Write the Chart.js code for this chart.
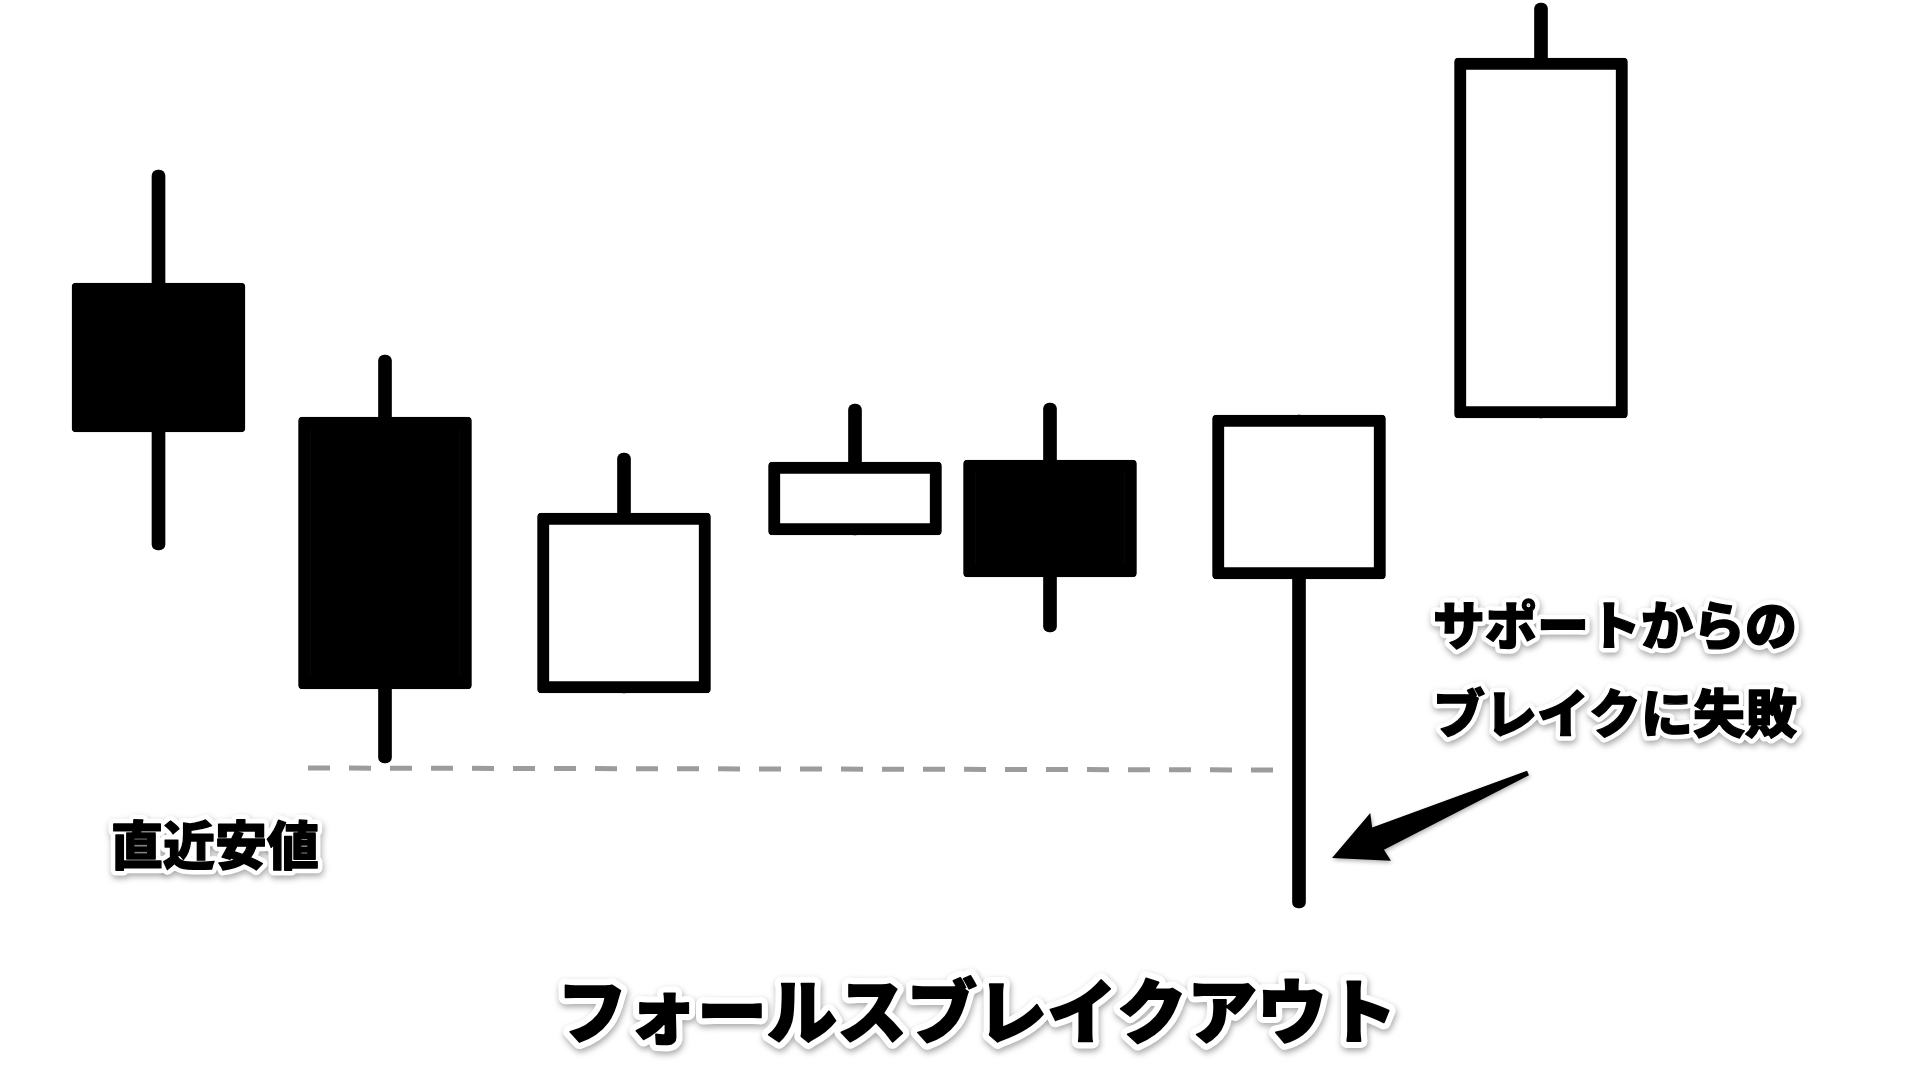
<!DOCTYPE html>
<html lang="ja">
<head>
    <meta charset="UTF-8">
    <title>フォールスブレイクアウト</title>
    <script src="https://cdn.jsdelivr.net/npm/chart.js"></script>
    <style>
        html, body {
            margin: 0;
            padding: 0;
            background: #fff;
            overflow: hidden;
        }
        #chart {
            display: block;
        }
    </style>
</head>
<body>
    <canvas id="chart" width="1920" height="1089"></canvas>

    <script>
        // candle data (time position, open/high/low/close), price
        const times  = [15.85, 38.5, 62.4, 85.5, 105.0, 129.9, 154.1];
        const opens  = [80.6, 67.2, 39.6, 55.4, 62.9, 51.0, 67.1];
        const highs  = [91.9, 73.4, 63.6, 68.5, 68.6, 67.4, 108.6];
        const lows   = [53.9, 32.6, 39.6, 55.4, 45.7, 18.1, 67.1];
        const closes = [65.7, 40.0, 57.6, 62.7, 51.2, 67.4, 103.1];

        // recent low (support line) from candle 2 to candle 6
        const supportTimes  = [30.8, 128.3];
        const supportPrices = [32.1, 31.9];

        // annotation anchors
        const arrowTail = [152.8, 31.6];
        const arrowTip  = [133.2, 23.1];
        const labels = [
            { text: '直近安値', x: 21.5, y: 24.4, size: 52 },
            { text: 'サポートからの', x: 161.5, y: 46.4, size: 52 },
            { text: 'ブレイクに失敗', x: 161.5, y: 37.6, size: 52 },
            { text: 'フォールスブレイクアウト', x: 97.7, y: 7.8, size: 70 }
        ];

        const bodies = times.map((t, i) => ({ x: t, y: [opens[i], closes[i]] }));
        const wicks = times.map((t, i) => ({ x: t, y: [lows[i], highs[i]] }));
        const bodyFill = times.map((t, i) => closes[i] < opens[i] ? '#000' : '#fff');
        const support = supportTimes.map((t, i) => ({ x: t, y: supportPrices[i] }));

        const annotations = {
            id: 'annotations',
            afterDatasetsDraw(chart) {
                const ctx = chart.ctx;
                const xs = chart.scales.x, ys = chart.scales.y;

                // arrow
                const tx = xs.getPixelForValue(arrowTail[0]), ty = ys.getPixelForValue(arrowTail[1]);
                const hx = xs.getPixelForValue(arrowTip[0]), hy = ys.getPixelForValue(arrowTip[1]);
                const len = Math.hypot(tx - hx, ty - hy);
                const ux = (tx - hx) / len, uy = (ty - hy) / len;
                const nx = -uy, ny = ux;
                const pt = (a, b) => [hx + ux * a + nx * b, hy + uy * a + ny * b];
                const poly = [
                    pt(0, 0), pt(53, -26), pt(49, -12), pt(len, -2.5),
                    pt(len, 2.5), pt(51, 13), pt(53, 26)
                ];
                ctx.save();
                ctx.shadowColor = 'rgba(0,0,0,0.3)';
                ctx.shadowBlur = 4;
                ctx.shadowOffsetX = 1;
                ctx.shadowOffsetY = 2;
                ctx.fillStyle = '#000';
                ctx.beginPath();
                poly.forEach((p, i) => i ? ctx.lineTo(p[0], p[1]) : ctx.moveTo(p[0], p[1]));
                ctx.closePath();
                ctx.fill();
                ctx.restore();

                // labels with white halo and soft shadow
                labels.forEach(l => {
                    const px = xs.getPixelForValue(l.x), py = ys.getPixelForValue(l.y);
                    ctx.save();
                    ctx.font = `900 ${l.size}px "Noto Sans CJK JP"`;
                    ctx.textAlign = 'center';
                    ctx.textBaseline = 'middle';
                    ctx.lineJoin = 'round';
                    ctx.shadowColor = 'rgba(0,0,0,0.35)';
                    ctx.shadowBlur = 6;
                    ctx.shadowOffsetX = 1;
                    ctx.shadowOffsetY = 3;
                    ctx.strokeStyle = '#fff';
                    ctx.lineWidth = l.size * 0.2;
                    ctx.strokeText(l.text, px, py);
                    ctx.shadowColor = 'transparent';
                    ctx.fillStyle = '#000';
                    ctx.fillText(l.text, px, py);
                    ctx.strokeStyle = '#000';
                    ctx.lineWidth = l.size * 0.025;
                    ctx.strokeText(l.text, px, py);
                    ctx.restore();
                });
            }
        };

        new Chart(document.getElementById('chart'), {
            data: {
                datasets: [
                    {
                        type: 'bar',
                        label: 'body',
                        data: bodies,
                        backgroundColor: bodyFill,
                        borderColor: '#000',
                        borderWidth: 12,
                        borderRadius: 4,
                        borderSkipped: false,
                        barThickness: 173,
                        grouped: false,
                        order: 0
                    },
                    {
                        type: 'bar',
                        label: 'wick',
                        data: wicks,
                        backgroundColor: '#000',
                        borderWidth: 0,
                        borderRadius: 6,
                        borderSkipped: false,
                        barThickness: 13,
                        grouped: false,
                        order: 1
                    },
                    {
                        type: 'line',
                        label: 'support',
                        data: support,
                        borderColor: '#9c9c9c',
                        borderWidth: 5,
                        borderDash: [22, 19],
                        pointRadius: 0,
                        order: 2
                    }
                ]
            },
            options: {
                responsive: false,
                animation: false,
                layout: { padding: 0 },
                plugins: {
                    legend: { display: false },
                    tooltip: { enabled: false }
                },
                scales: {
                    x: { type: 'linear', min: 0, max: 192, offset: false, display: false },
                    y: { type: 'linear', min: 0, max: 108.9, display: false }
                }
            },
            plugins: [annotations]
        });
    </script>
</body>
</html>
